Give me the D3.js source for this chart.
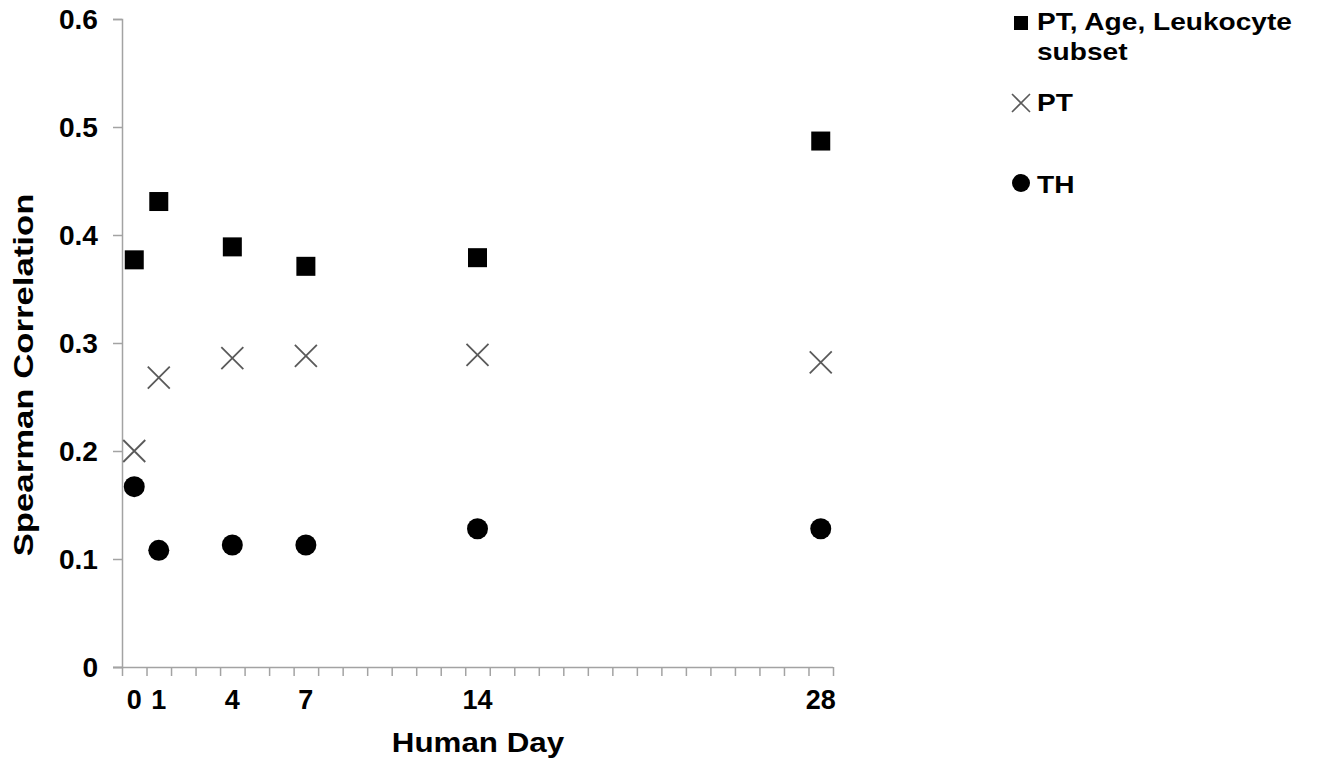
<!DOCTYPE html>
<html>
<head>
<meta charset="utf-8">
<script src="https://cdn.jsdelivr.net/npm/d3@7"></script>
<style>
  body { margin: 0; background: #fff; }
  svg { display: block; font-family: "Liberation Sans", Arial, sans-serif; font-weight: bold; }
</style>
</head>
<body>
<div id="chart"></div>
<script>
// data
const days = [0, 1, 4, 7, 14, 28]
const ptAgeLeuko = [0.377, 0.431, 0.389, 0.371, 0.379, 0.487]
const ptOnly = [0.200, 0.268, 0.286, 0.288, 0.289, 0.282]
const thOnly = [0.167, 0.108, 0.113, 0.113, 0.128, 0.128]
const yTicks = [0, 0.1, 0.2, 0.3, 0.4, 0.5, 0.6]
const xLabels = [0, 1, 4, 7, 14, 28]
const seriesNames = ['PT, Age, Leukocyte subset', 'PT', 'TH']

const W = 1318
const H = 761
const AXIS = '#a3a3a3'

const svg = d3.select('#chart').append('svg')
  .attr('width', W)
  .attr('height', H)

const x = d3.scaleLinear().domain([-0.5, 28.5]).range([122, 833])
const y = d3.scaleLinear().domain([0, 0.6]).range([667, 19])

// stretch text sideways a bit, the source font runs wider than Liberation
function widen (sel, k) {
  sel.each(function () {
    const len = this.getComputedTextLength()
    d3.select(this).attr('textLength', len * k).attr('lengthAdjust', 'spacingAndGlyphs')
  })
}

// y axis
const yAxis = svg.append('g')
  .attr('transform', 'translate(122,0)')
  .call(d3.axisLeft(y).tickValues(yTicks).tickSize(9).tickPadding(15)
    .tickFormat(d => d === 0 ? '0' : d3.format('.1f')(d)))
yAxis.select('.domain').attr('stroke', AXIS).attr('stroke-width', 1.5)
yAxis.selectAll('.tick line').attr('stroke', AXIS).attr('stroke-width', 1.5)
yAxis.selectAll('.tick text')
  .attr('fill', '#000')
  .style('font-size', '27px')
  .style('font-family', '"Liberation Sans", Arial, sans-serif')
  .style('font-weight', 'bold')
  .attr('dy', '0.36em')
  .call(widen, 1.04)

// x axis: ticks sit between day slots, labels only on sampled days
const xAxis = svg.append('g')
  .attr('transform', 'translate(0,667)')
  .call(d3.axisBottom(x).tickValues(d3.range(-0.5, 28.6, 1)).tickSize(9).tickFormat(''))
xAxis.select('.domain').attr('stroke', AXIS).attr('stroke-width', 1.5)
  .attr('d', 'M113,0.5H' + x(28.5))
xAxis.selectAll('.tick line').attr('stroke', AXIS).attr('stroke-width', 1.5)

svg.append('g').selectAll('text')
  .data(xLabels)
  .enter().append('text')
  .attr('x', d => x(d))
  .attr('y', 709)
  .attr('text-anchor', 'middle')
  .style('font-size', '27px')
  .text(d => d)

// axis titles
svg.append('text')
  .attr('x', 478)
  .attr('y', 752)
  .attr('text-anchor', 'middle')
  .style('font-size', '27px')
  .text('Human Day')
  .call(widen, 1.16)

svg.append('text')
  .attr('transform', 'translate(33,375) rotate(-90)')
  .attr('text-anchor', 'middle')
  .style('font-size', '28px')
  .text('Spearman Correlation')
  .call(widen, 1.24)

// series marks
const sq = 19
svg.append('g').selectAll('rect')
  .data(days)
  .enter().append('rect')
  .attr('x', (d, i) => x(d) - sq / 2)
  .attr('y', (d, i) => y(ptAgeLeuko[i]) - sq / 2)
  .attr('width', sq)
  .attr('height', sq)
  .attr('fill', '#000')

const xs = 11
svg.append('g').selectAll('path')
  .data(days)
  .enter().append('path')
  .attr('d', (d, i) => {
    const cx = x(d)
    const cy = y(ptOnly[i])
    return 'M' + (cx - xs) + ',' + (cy - xs) + 'L' + (cx + xs) + ',' + (cy + xs) +
      'M' + (cx - xs) + ',' + (cy + xs) + 'L' + (cx + xs) + ',' + (cy - xs)
  })
  .attr('stroke', '#5a5a5a')
  .attr('stroke-width', 1.8)
  .attr('fill', 'none')

svg.append('g').selectAll('circle')
  .data(days)
  .enter().append('circle')
  .attr('cx', d => x(d))
  .attr('cy', (d, i) => y(thOnly[i]))
  .attr('r', 10.5)
  .attr('fill', '#000')

// legend
const lg = svg.append('g').attr('transform', 'translate(1021,0)')
lg.append('rect').attr('x', -7).attr('y', 16).attr('width', 14).attr('height', 14).attr('fill', '#000')
lg.append('path').attr('d', 'M-9,94L9,112M-9,112L9,94').attr('stroke', '#5a5a5a').attr('stroke-width', 1.6)
lg.append('circle').attr('cx', 0).attr('cy', 183).attr('r', 9).attr('fill', '#000')

const legendText = lg.append('g').style('font-size', '24px')
legendText.append('text').attr('x', 16).attr('y', 30).text(seriesNames[0].replace(' subset', '')).call(widen, 1.17)
legendText.append('text').attr('x', 16).attr('y', 60).text('subset').call(widen, 1.17)
legendText.append('text').attr('x', 16).attr('y', 111).text(seriesNames[1]).call(widen, 1.17)
legendText.append('text').attr('x', 16).attr('y', 193).text(seriesNames[2]).call(widen, 1.17)
</script>
</body>
</html>
